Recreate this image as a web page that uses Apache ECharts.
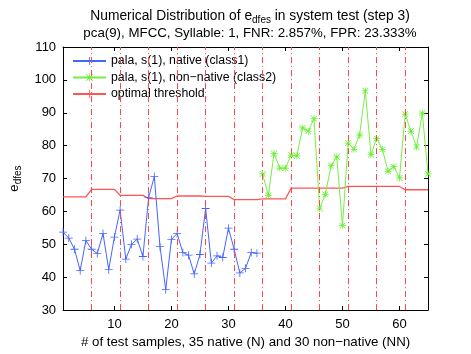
<!DOCTYPE html>
<html>
<head>
<meta charset="utf-8">
<script src="https://cdn.jsdelivr.net/npm/echarts@6/dist/echarts.min.js"></script>
<style>
  html, body { margin: 0; padding: 0; background: #fff; }
  #main { width: 471px; height: 354px; }
</style>
</head>
<body>
<div id="main"></div>
<script>
// e_dfes per test sample, samples 1..35 native, 36..65 non-native
const native = [53.7, 51.9, 48.5, 42.0, 51.2, 48.5, 47.2, 53.3, 42.3, 52.2,
  60.4, 45.5, 50.0, 51.6, 46.3, 64.2, 70.6, 49.3, 36.2, 51.5,
  53.3, 47.5, 46.7, 41.0, 46.9, 60.9, 44.3, 46.5, 46.0, 54.9,
  48.5, 41.3, 42.7, 47.5, 47.3];
const nonNative = [71.4, 64.9, 77.6, 73.2, 73.2, 77.1, 76.9, 85.4, 84.4, 88.2,
  60.9, 65.2, 73.9, 76.6, 55.7, 80.8, 78.9, 83.2, 96.7, 77.3,
  82.2, 78.9, 72.2, 73.6, 70.2, 89.6, 84.4, 79.6, 89.9, 71.4];
const threshold = [
  64.4, 64.4, 64.4, 64.4, 64.4, 66.7, 66.7, 66.7, 66.7, 66.7,
  64.9, 64.9, 64.9, 64.9, 64.9, 63.9, 63.9, 63.9, 63.9, 63.9,
  64.7, 64.7, 64.7, 64.7, 64.7, 64.6, 64.6, 64.6, 64.6, 64.6,
  63.6, 63.6, 63.6, 63.6, 63.6, 63.8, 63.8, 63.8, 63.8, 63.8,
  67.1, 67.1, 67.1, 67.1, 67.1, 67.1, 67.1, 67.1, 67.1, 67.1,
  67.6, 67.6, 67.6, 67.6, 67.6, 67.6, 67.6, 67.6, 67.6, 67.6,
  66.6, 66.6, 66.6, 66.6, 66.6];
const foldStarts = [6, 11, 16, 21, 26, 31, 36, 41, 46, 51, 56, 61];
const xTicks = [10, 20, 30, 40, 50, 60];

const font = 'Liberation Sans, Arial, sans-serif';
const plus = 'path://M4.5,0h1v10h-1z M0,4.5h10v1h-10z';
const star = 'path://M4.5,0h1v10h-1z M0,4.5h10v1h-10z M1.2,0.5L9.5,8.8L8.8,9.5L0.5,1.2z M8.8,0.5L9.5,1.2L1.2,9.5L0.5,8.8z';

const nativeData = native.map((v, i) => [i + 1, v]);
const nonNativeData = nonNative.map((v, i) => [native.length + i + 1, v]);
const thresholdData = threshold.map((v, i) => [i + 1, v]);

const tickStyle = { show: true, inside: true, length: 4, lineStyle: { color: '#000' } };
const subRich = (size) => ({
  n: { fontSize: size, fontFamily: font, fontWeight: 'normal', color: '#000' },
  s: { fontSize: 10, fontFamily: font, fontWeight: 'normal', color: '#000', padding: [8, 0, 0, 0] }
});

const chart = echarts.init(document.getElementById('main'));
chart.setOption({
  animation: false,
  textStyle: { fontFamily: font },
  title: [
    {
      text: '{n|Numerical Distribution of e}{s|dfes}{n| in system test (step 3)}',
      left: 245, top: 2, textAlign: 'center',
      textStyle: { fontWeight: 'normal', rich: subRich(13.8) }
    },
    {
      text: 'pca(9), MFCC, Syllable: 1, FNR: 2.857%, FPR: 23.333%',
      left: 245, top: 22, textAlign: 'center',
      textStyle: { fontSize: 13.3, fontWeight: 'normal', fontFamily: font, color: '#000' }
    }
  ],
  grid: { left: 62, right: 43, top: 47, bottom: 40 },
  legend: {
    orient: 'vertical', left: 67, top: 50,
    itemWidth: 33, itemHeight: 10, itemGap: 4.5,
    textStyle: { fontSize: 12.3, fontFamily: font, color: '#000' },
    data: ['pala, s(1), native (class1)', 'pala, s(1), non\u2212native (class2)', 'optimal threshold']
  },
  xAxis: [
    {
      type: 'value', min: 1, max: 65,
      name: '# of test samples, 35 native (N) and 30 non\u2212native (NN)',
      nameLocation: 'middle', nameGap: 22,
      nameTextStyle: { fontSize: 13.3, color: '#000', fontFamily: font },
      axisLine: { show: true, onZero: false, lineStyle: { color: '#000' } },
      axisTick: Object.assign({ customValues: xTicks }, tickStyle),
      axisLabel: { customValues: xTicks, fontSize: 13, color: '#000', margin: 8 },
      splitLine: { show: false }
    },
    {
      type: 'value', min: 1, max: 65, position: 'top',
      axisLine: { show: true, onZero: false, lineStyle: { color: '#000' } },
      axisTick: Object.assign({ customValues: xTicks }, tickStyle),
      axisLabel: { show: false },
      splitLine: { show: false }
    }
  ],
  yAxis: [
    {
      type: 'value', min: 30, max: 110, interval: 10,
      name: '{n|e}{s|dfes}',
      nameLocation: 'middle', nameGap: 36, nameRotate: 90,
      nameTextStyle: { rich: subRich(13.3) },
      axisLine: { show: true, lineStyle: { color: '#000' } },
      axisTick: tickStyle,
      axisLabel: { fontSize: 13, color: '#000', margin: 7 },
      splitLine: { show: false }
    },
    {
      type: 'value', min: 30, max: 110, interval: 10, position: 'right',
      axisLine: { show: true, lineStyle: { color: '#000' } },
      axisTick: tickStyle,
      axisLabel: { show: false },
      splitLine: { show: false }
    }
  ],
  series: [
    {
      name: 'pala, s(1), native (class1)',
      type: 'line', data: nativeData,
      symbol: plus, symbolSize: 8,
      lineStyle: { color: '#4565ff', width: 1 },
      itemStyle: { color: '#4565ff' },
      markLine: {
        silent: true, symbol: 'none', label: { show: false },
        lineStyle: { color: '#ff4545', width: 1, type: [6, 3, 1, 3] },
        data: foldStarts.map(x => ({ xAxis: x }))
      },
      z: 3
    },
    {
      name: 'pala, s(1), non\u2212native (class2)',
      type: 'line', data: nonNativeData,
      symbol: star, symbolSize: 7,
      lineStyle: { color: '#77ee44', width: 1 },
      itemStyle: { color: '#66ee33' },
      z: 3
    },
    {
      name: 'optimal threshold',
      type: 'line', data: thresholdData,
      symbol: plus, symbolSize: 8, showSymbol: false,
      lineStyle: { color: '#ff5555', width: 1.3 },
      itemStyle: { color: '#ff5555' },
      z: 2
    }
  ]
});
</script>
</body>
</html>
